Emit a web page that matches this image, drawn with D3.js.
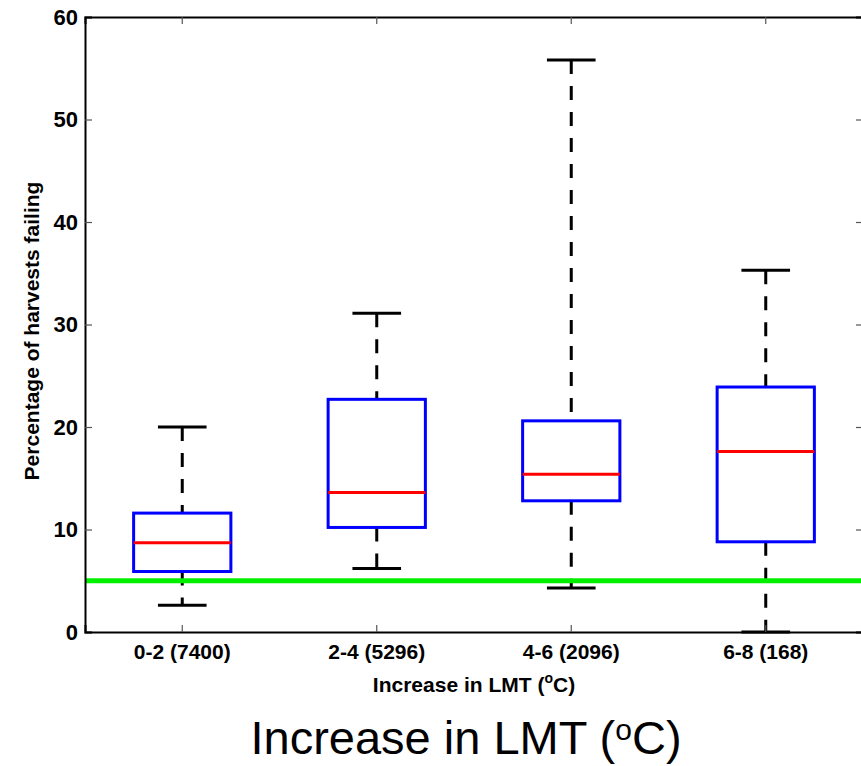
<!DOCTYPE html>
<html>
<head>
<meta charset="utf-8">
<script src="https://cdn.jsdelivr.net/npm/d3@7"></script>
<style>
  body { margin: 0; background: #fff; }
  svg { display: block; font-family: "Liberation Sans", Arial, Helvetica, sans-serif; }
</style>
</head>
<body>
<svg id="chart" width="861" height="766"></svg>
<script>
// data
const categories = ["0-2 (7400)", "2-4 (5296)", "4-6 (2096)", "6-8 (168)"];
const whiskerHigh = [20.0, 31.1, 55.8, 35.3];
const upperQuartile = [11.6, 22.7, 20.6, 23.9];
const medians = [8.7, 13.6, 15.4, 17.6];
const lowerQuartile = [5.9, 10.2, 12.8, 8.8];
const whiskerLow = [2.6, 6.2, 4.3, 0.0];
const baselineValue = 5;
const yTicks = [0, 10, 20, 30, 40, 50, 60];

const svg = d3.select("#chart");
const plotL = 85, plotR = 863, plotT = 17, plotB = 632;

const x = d3.scaleBand().domain(categories).range([plotL, plotR]).paddingInner(0).paddingOuter(0);
const y = d3.scaleLinear().domain([0, 60]).range([plotB, plotT]);

const boxes = categories.map((c, i) => ({
  cat: c, hi: whiskerHigh[i], q3: upperQuartile[i], med: medians[i],
  q1: lowerQuartile[i], lo: whiskerLow[i]
}));

const boxW = x.bandwidth() * 0.5;
const capW = x.bandwidth() * 0.25;
const cx = d => x(d.cat) + x.bandwidth() / 2;

const g = svg.append("g");

// whiskers (dashed)
g.selectAll(".whisk-up").data(boxes).join("line")
  .attr("x1", cx).attr("x2", cx)
  .attr("y1", d => y(d.hi)).attr("y2", d => y(d.q3))
  .attr("stroke", "#000").attr("stroke-width", 3).attr("stroke-dasharray", "14,12");
g.selectAll(".whisk-dn").data(boxes).join("line")
  .attr("x1", cx).attr("x2", cx)
  .attr("y1", d => y(d.q1)).attr("y2", d => y(d.lo))
  .attr("stroke", "#000").attr("stroke-width", 3).attr("stroke-dasharray", "14,12");

// caps
["hi", "lo"].forEach(k => {
  g.selectAll(".cap-" + k).data(boxes).join("line")
    .attr("x1", d => cx(d) - capW / 2).attr("x2", d => cx(d) + capW / 2)
    .attr("y1", d => y(d[k])).attr("y2", d => y(d[k]))
    .attr("stroke", "#000").attr("stroke-width", 3);
});

// boxes
g.selectAll("rect.box").data(boxes).join("rect")
  .attr("class", "box")
  .attr("x", d => cx(d) - boxW / 2).attr("width", boxW)
  .attr("y", d => y(d.q3)).attr("height", d => y(d.q1) - y(d.q3))
  .attr("fill", "none").attr("stroke", "#0000ff").attr("stroke-width", 3);

// medians
g.selectAll(".med").data(boxes).join("line")
  .attr("x1", d => cx(d) - boxW / 2).attr("x2", d => cx(d) + boxW / 2)
  .attr("y1", d => y(d.med)).attr("y2", d => y(d.med))
  .attr("stroke", "#ff0000").attr("stroke-width", 3);

// green reference line
svg.append("line")
  .attr("x1", plotL).attr("x2", plotR)
  .attr("y1", y(baselineValue)).attr("y2", y(baselineValue))
  .attr("stroke", "#00f000").attr("stroke-width", 5);

// axes
const yAxisL = d3.axisLeft(y).tickValues(yTicks).tickSize(-7).tickPadding(7);
const yAxisR = d3.axisRight(y).tickValues(yTicks).tickSize(-7).tickFormat("");
const xAxisB = d3.axisBottom(x).tickSize(-7).tickPadding(12);
const xAxisT = d3.axisTop(x).tickSize(-7).tickFormat("");

function styleAxis(sel) {
  sel.select(".domain").attr("stroke", "#000").attr("stroke-width", 2);
  sel.selectAll(".tick line").attr("stroke", "#555").attr("stroke-width", 1.2);
  sel.selectAll(".tick text").attr("fill", "#000").attr("font-weight", "bold");
}

svg.append("g").attr("transform", `translate(${plotL},0)`).call(yAxisL).call(styleAxis)
  .selectAll(".tick text").attr("font-size", 22);
svg.append("g").attr("transform", `translate(${plotR},0)`).call(yAxisR).call(styleAxis);
svg.append("g").attr("transform", `translate(0,${plotB})`).call(xAxisB).call(styleAxis)
  .selectAll(".tick text").attr("font-size", 21);
svg.append("g").attr("transform", `translate(0,${plotT})`).call(xAxisT).call(styleAxis);

// y label
svg.append("text")
  .attr("transform", `translate(39,331) rotate(-90)`)
  .attr("text-anchor", "middle")
  .attr("font-size", 21).attr("font-weight", "bold")
  .text("Percentage of harvests failing");

// x label with superscript
const xl = svg.append("text")
  .attr("x", 474).attr("y", 692)
  .attr("text-anchor", "middle")
  .attr("font-size", 21).attr("font-weight", "bold");
xl.append("tspan").text("Increase in LMT (");
xl.append("tspan").attr("dy", -9).attr("font-size", 14).text("o");
xl.append("tspan").attr("dy", 9).text("C)");

// big caption below
const cap = svg.append("text")
  .attr("x", 466).attr("y", 754)
  .attr("text-anchor", "middle")
  .attr("font-size", 47);
cap.append("tspan").text("Increase in LMT (");
cap.append("tspan").attr("dy", -14).attr("font-size", 30).text("o");
cap.append("tspan").attr("dy", 14).text("C)");
</script>
</body>
</html>
